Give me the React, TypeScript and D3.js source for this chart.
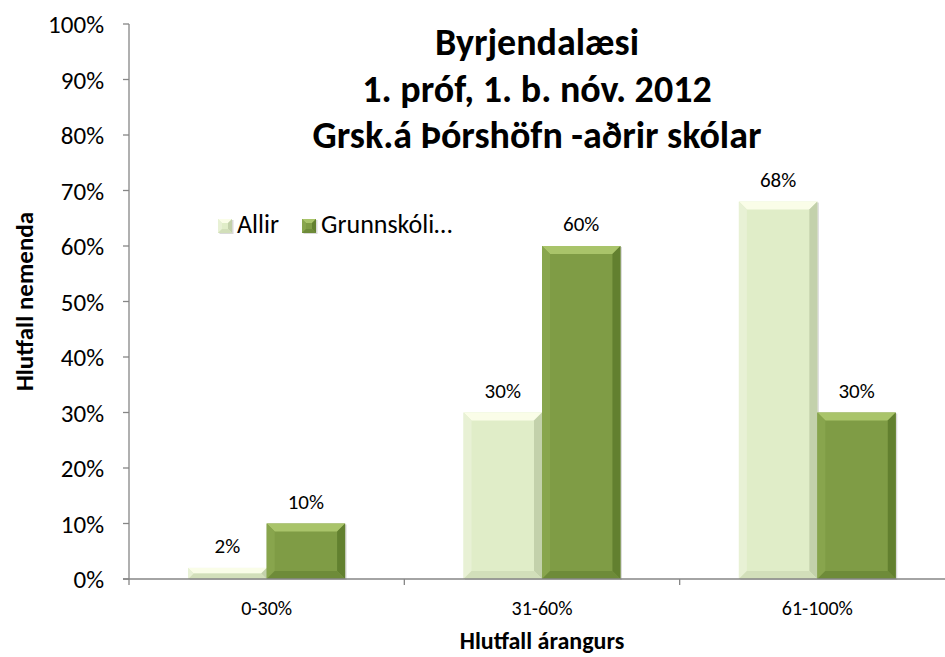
import * as d3 from "d3";

const categories = ["0-30%", "31-60%", "61-100%"];
const seriesNames = ["Allir", "Grunnskóli…"];
const allir = [2, 30, 68];
const grunnskoli = [10, 60, 30];
const yTicks = [0, 10, 20, 30, 40, 50, 60, 70, 80, 90, 100];
const titleLines = ["Byrjendalæsi", "1. próf, 1. b. nóv. 2012", "Grsk.á Þórshöfn -aðrir skólar"];

const font = "Calibri, Carlito, Lato, 'Liberation Sans', sans-serif";

const palette = [
  { base: "#e0edc8", top: "#fafde8", left: "#e8f1d5", right: "#c3d1ab", bottom: "#d2dfba" },
  { base: "#7f9c45", top: "#a9c46a", left: "#88a54d", right: "#62802f", bottom: "#6e8b39" },
];

function BevelBar({ x, y, w, h, c, bevel = 8 }) {
  const b = Math.min(bevel, h / 2, w / 2);
  const x2 = x + w;
  const y2 = y + h;
  return (
    <g>
      <rect x={x + 1.5} y={y + 1} width={w} height={h} fill="#000" opacity={0.15} />
      <rect x={x} y={y} width={w} height={h} fill={c.base} />
      <polygon points={`${x},${y} ${x2},${y} ${x2 - b},${y + b} ${x + b},${y + b}`} fill={c.top} />
      <polygon points={`${x},${y} ${x + b},${y + b} ${x + b},${y2 - b} ${x},${y2}`} fill={c.left} />
      <polygon points={`${x2},${y} ${x2},${y2} ${x2 - b},${y2 - b} ${x2 - b},${y + b}`} fill={c.right} />
      <polygon points={`${x},${y2} ${x + b},${y2 - b} ${x2 - b},${y2 - b} ${x2},${y2}`} fill={c.bottom} />
    </g>
  );
}

export default function App() {
  const left = 129;
  const right = 955;
  const top = 24;
  const bottom = 579;

  const x = d3.scaleBand().domain(categories).range([left, right]).paddingInner(0).paddingOuter(0);
  const inner = d3
    .scaleBand()
    .domain(seriesNames)
    .range([0, x.bandwidth()])
    .paddingInner(0)
    .paddingOuter(0.755);
  const y = d3.scaleLinear().domain([0, 100]).range([bottom, top]);

  const series = [allir, grunnskoli];
  const axisColor = "#868686";

  return (
    <svg width={945} height={657} style={{ position: "absolute", left: 0, top: 0 }} fontFamily={font}>
      <rect width={945} height={657} fill="#fff" />

      {/* y axis */}
      <line x1={left} x2={left} y1={top} y2={bottom} stroke={axisColor} strokeWidth={1.3} />
      {yTicks.map((t) => (
        <g key={t} transform={`translate(0,${y(t)})`}>
          <line x1={left - 6} x2={left} stroke={axisColor} strokeWidth={1.3} />
          <text x={104} y={9} textAnchor="end" fontSize={25} fill="#000">
            {t}%
          </text>
        </g>
      ))}

      {/* bars */}
      {categories.map((cat, i) => (
        <g key={cat}>
          {seriesNames.map((s, j) => {
            const v = series[j][i];
            const bx = x(cat) + inner(s);
            const by = y(v);
            return (
              <g key={s}>
                <BevelBar x={bx} y={by} w={inner.bandwidth()} h={y(0) - by} c={palette[j]} />
                <text
                  x={bx + inner.bandwidth() / 2}
                  y={by - 15}
                  textAnchor="middle"
                  fontSize={21}
                  fill="#000"
                >
                  {v}%
                </text>
              </g>
            );
          })}
        </g>
      ))}

      {/* x axis */}
      <line x1={left - 6} x2={right} y1={bottom} y2={bottom} stroke={axisColor} strokeWidth={1.3} />
      {[...categories.map((c) => x(c)), right].map((tx, i) => (
        <line key={i} x1={tx} x2={tx} y1={bottom} y2={bottom + 6} stroke={axisColor} strokeWidth={1.3} />
      ))}
      {categories.map((c) => (
        <text key={c} x={x(c) + x.bandwidth() / 2} y={615} textAnchor="middle" fontSize={20} fill="#000">
          {c}
        </text>
      ))}

      {/* axis titles */}
      <text x={x(categories[1]) + x.bandwidth() / 2} y={649} textAnchor="middle" fontSize={24} fontWeight="bold" fill="#000">
        Hlutfall árangurs
      </text>
      <text
        transform={`translate(33,${(top + bottom) / 2}) rotate(-90)`}
        textAnchor="middle"
        fontSize={25}
        fontWeight="bold"
        fill="#000"
      >
        Hlutfall nemenda
      </text>

      {/* title */}
      {titleLines.map((line, i) => (
        <text key={i} x={537} y={55 + i * 46.5} textAnchor="middle" fontSize={38} fontWeight="bold" fill="#000">
          {line}
        </text>
      ))}

      {/* legend */}
      {seriesNames.map((s, j) => {
        const lx = j === 0 ? 218 : 302;
        return (
          <g key={s}>
            <BevelBar x={lx} y={219} w={14} h={14} c={palette[j]} bevel={4} />
            <text x={lx + 19} y={233} fontSize={26} fill="#000">
              {s}
            </text>
          </g>
        );
      })}
    </svg>
  );
}
